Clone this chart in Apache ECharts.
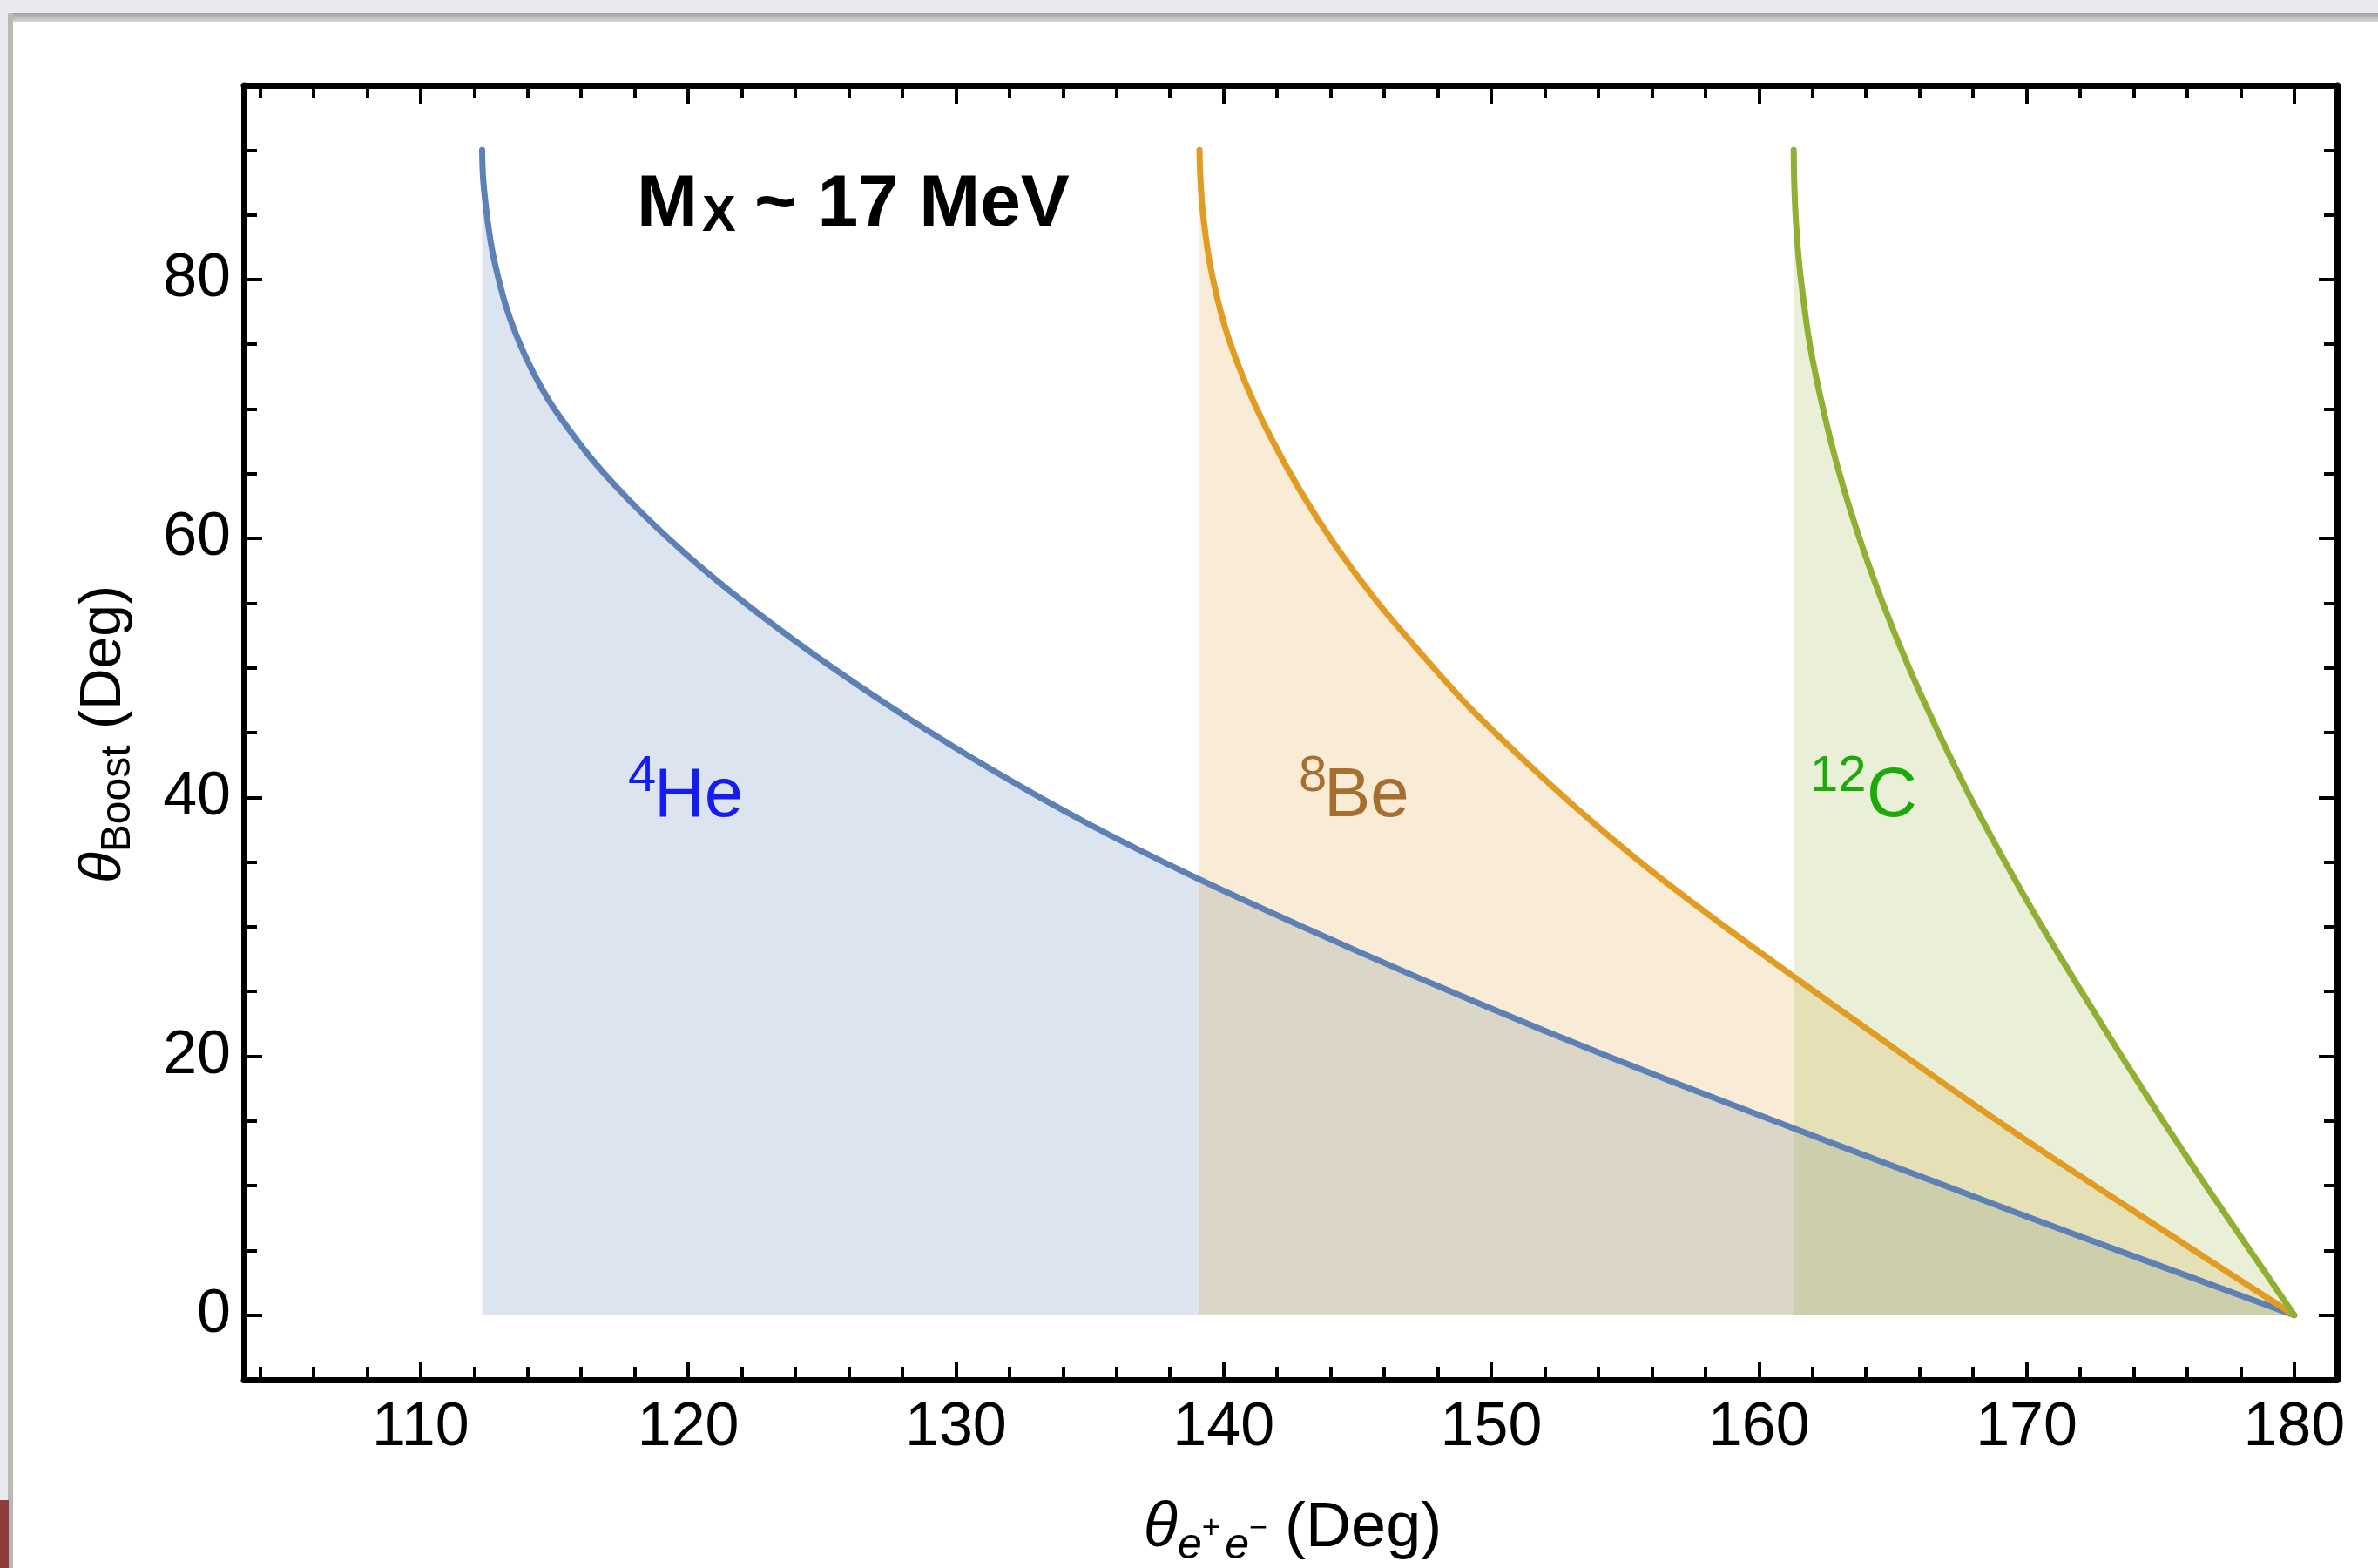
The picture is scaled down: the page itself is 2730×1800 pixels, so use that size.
<!DOCTYPE html>
<html>
<head>
<meta charset="utf-8">
<script src="https://cdn.jsdelivr.net/npm/echarts@6/dist/echarts.min.js"></script>
<style>
html,body{margin:0;padding:0;background:#ffffff;}
#chart{width:2730px;height:1800px;}
</style>
</head>
<body>
<div id="chart"></div>
<script>
// ---- data (x = opening angle θe+e− in deg, y = θBoost in deg)
const he4Curve = [
  [112.3,90],[112.33,88],[112.42,86],[112.54,84],[112.7,82],[112.92,80],[113.18,78],[113.52,76],
  [113.93,74],[114.42,72],[115.0,70],[116.45,66],[118.25,62],[120.35,58],[122.75,54],[125.4,50],
  [128.3,46],[131.45,42],[134.9,38],[138.75,34],[142.95,30],[147.35,26],[151.95,22],[156.8,18],
  [161.85,14],[166.95,10],[172.1,6],[176.05,3],[180,0]
];
const be8Curve = [
  [139.1,90],[139.13,88],[139.22,85.3],[139.5,81.1],[140.06,76.3],[140.8,72.1],[141.74,67.9],
  [142.86,63.7],[144.16,59.5],[145.66,55.3],[147.34,51.2],[149.21,46.9],[151.26,42.8],
  [153.5,38.6],[155.93,34.4],[158.6,30.2],[161.4,26.0],[164.45,21.5],[167.8,16.6],
  [171.15,11.9],[174.4,7.5],[177.6,3.2],[180,0]
];
const c12Curve = [
  [161.3,90],[161.32,87.5],[161.37,85],[161.45,82.5],[161.57,80],[161.9,75],[162.4,70],
  [163.01,65],[163.76,60],[164.63,55],[165.61,50],[166.71,45],[167.9,40],[169.2,35],
  [170.58,30],[172.05,25],[173.55,20],[175.1,15],[176.7,10],[178.35,5],[180,0]
];
const xRange = [103.4, 181.6];
const yRange = [-5, 95];
const seriesNames = ['4He', '8Be', '12C'];
const lineColors = ['#5E81B5', '#E19C24', '#8FB032'];
const fillColors = ['rgba(94,129,181,0.31)', 'rgba(225,156,36,0.27)', 'rgba(143,176,50,0.27)'];
const curves = [he4Curve, be8Curve, c12Curve];

const FONT = '"Liberation Sans", Arial, Helvetica, sans-serif';

function makeXAxis(pos, showLabels) {
  return {
    type: 'value', position: pos, min: xRange[0], max: xRange[1], splitNumber: 8,
    axisLine: { show: true, onZero: false, lineStyle: { color: '#000', width: 7 } },
    axisTick: { show: true, inside: true, length: 21, lineStyle: { color: '#000', width: 4 } },
    minorTick: { show: true, splitNumber: 5, length: 15, lineStyle: { color: '#000', width: 4 } },
    axisLabel: { show: showLabels, margin: 21, fontSize: 70, color: '#000', fontFamily: FONT,
                 showMinLabel: false, showMaxLabel: false },
    splitLine: { show: false }, minorSplitLine: { show: false }
  };
}
function makeYAxis(pos, showLabels) {
  return {
    type: 'value', position: pos, min: yRange[0], max: yRange[1], splitNumber: 5,
    axisLine: { show: true, onZero: false, lineStyle: { color: '#000', width: 7 } },
    axisTick: { show: true, inside: true, length: 21, lineStyle: { color: '#000', width: 4 } },
    minorTick: { show: true, splitNumber: 4, length: 15, lineStyle: { color: '#000', width: 4 } },
    axisLabel: { show: showLabels, margin: 15, fontSize: 70, color: '#000', fontFamily: FONT,
                 showMinLabel: false, showMaxLabel: false },
    splitLine: { show: false }, minorSplitLine: { show: false }
  };
}

const series = [];
curves.forEach((d, i) => {
  series.push({
    name: seriesNames[i] + ' fill', type: 'line', data: d, xAxisIndex: 0, yAxisIndex: 0,
    showSymbol: false, symbol: 'none', smooth: 0.3, z: 2,
    lineStyle: { width: 0, opacity: 0 },
    areaStyle: { color: fillColors[i], origin: 0 },
    silent: true
  });
});
curves.forEach((d, i) => {
  series.push({
    name: seriesNames[i], type: 'line', data: d, xAxisIndex: 0, yAxisIndex: 0,
    showSymbol: false, symbol: 'none', smooth: 0.3, z: 3,
    lineStyle: { width: 7, color: lineColors[i], cap: 'round', join: 'round' },
    silent: true
  });
});

const graphic = [
  // window chrome around the figure
  { type: 'rect', shape: { x: 0, y: 0, width: 2730, height: 15 }, style: { fill: '#E9E9EE' }, silent: true },
  { type: 'rect', shape: { x: 0, y: 15, width: 2730, height: 10 },
    style: { fill: { type: 'linear', x: 0, y: 0, x2: 0, y2: 1,
      colorStops: [{ offset: 0, color: '#9EA29E' }, { offset: 1, color: '#D6D6D6' }] } }, silent: true },
  { type: 'rect', shape: { x: 0, y: 0, width: 9, height: 1800 }, style: { fill: '#E9E9EE' }, silent: true },
  { type: 'rect', shape: { x: 9, y: 15, width: 6, height: 1785 }, style: { fill: '#B8BAB8' }, silent: true },
  { type: 'rect', shape: { x: 0, y: 1722, width: 10, height: 78 }, style: { fill: '#8E3B3B' }, silent: true },

  // M_X ~ 17 MeV
  { type: 'text', x: 731, y: 236, style: { text: 'M', font: 'bold 84px ' + FONT, fill: '#000', verticalAlign: 'middle', align: 'left' }, silent: true },
  { type: 'text', x: 806, y: 249, style: { text: 'X', font: 'bold 58px ' + FONT, fill: '#000', verticalAlign: 'middle', align: 'left' }, silent: true },
  { type: 'text', x: 866, y: 236, style: { text: '~ 17 MeV', font: 'bold 84px ' + FONT, fill: '#000', verticalAlign: 'middle', align: 'left' }, silent: true },

  // nucleus labels
  { type: 'text', x: 721, y: 892, style: { text: '4', font: '58px ' + FONT, fill: '#0000FF', verticalAlign: 'middle' }, silent: true },
  { type: 'text', x: 751, y: 915, style: { text: 'He', font: '80px ' + FONT, fill: '#0000FF', verticalAlign: 'middle' }, silent: true },
  { type: 'text', x: 1491, y: 892, style: { text: '8', font: '58px ' + FONT, fill: '#996633', verticalAlign: 'middle' }, silent: true },
  { type: 'text', x: 1520, y: 915, style: { text: 'Be', font: '80px ' + FONT, fill: '#996633', verticalAlign: 'middle' }, silent: true },
  { type: 'text', x: 2078, y: 892, style: { text: '12', font: '58px ' + FONT, fill: '#00AA00', verticalAlign: 'middle' }, silent: true },
  { type: 'text', x: 2143, y: 915, style: { text: 'C', font: '80px ' + FONT, fill: '#00AA00', verticalAlign: 'middle' }, silent: true },

  // x axis title
  { type: 'text', x: 1484, y: 1755, silent: true,
    style: {
      text: '{t|θ}{s|e}{p|+}{sp| }{s|e}{p|−}{n| (Deg)}',
      align: 'center', verticalAlign: 'middle', fill: '#000',
      rich: {
        t: { fontFamily: FONT, fontStyle: 'italic', fontSize: 72, lineHeight: 90, verticalAlign: 'middle', fill: '#000' },
        s: { fontFamily: FONT, fontStyle: 'italic', fontSize: 50, lineHeight: 64, verticalAlign: 'bottom', fill: '#000' },
        p: { fontFamily: FONT, fontSize: 36, lineHeight: 36, verticalAlign: 'middle', fill: '#000' },
        sp: { fontFamily: FONT, fontSize: 20, lineHeight: 20, verticalAlign: 'middle' },
        n: { fontFamily: FONT, fontSize: 72, lineHeight: 90, verticalAlign: 'middle', fill: '#000' }
      }
    }
  },
  // y axis title (rotated)
  { type: 'text', x: 120, y: 843, rotation: Math.PI / 2, silent: true,
    style: {
      text: '{t|θ}{s|Boost}{n| (Deg)}',
      align: 'center', verticalAlign: 'middle', fill: '#000',
      rich: {
        t: { fontFamily: FONT, fontStyle: 'italic', fontSize: 66, lineHeight: 80, verticalAlign: 'middle', fill: '#000' },
        s: { fontFamily: FONT, fontSize: 48, lineHeight: 50, verticalAlign: 'bottom', fill: '#000' },
        n: { fontFamily: FONT, fontSize: 66, lineHeight: 80, verticalAlign: 'middle', fill: '#000' }
      }
    }
  }
];

const chart = echarts.init(document.getElementById('chart'), null, { renderer: 'canvas', width: 2730, height: 1800 });
chart.setOption({
  backgroundColor: '#ffffff',
  animation: false,
  grid: { left: 280, right: 47, top: 98, bottom: 216, containLabel: false },
  xAxis: [makeXAxis('bottom', true), makeXAxis('top', false)],
  yAxis: [makeYAxis('left', true), makeYAxis('right', false)],
  series: series,
  graphic: graphic
});
</script>
</body>
</html>
